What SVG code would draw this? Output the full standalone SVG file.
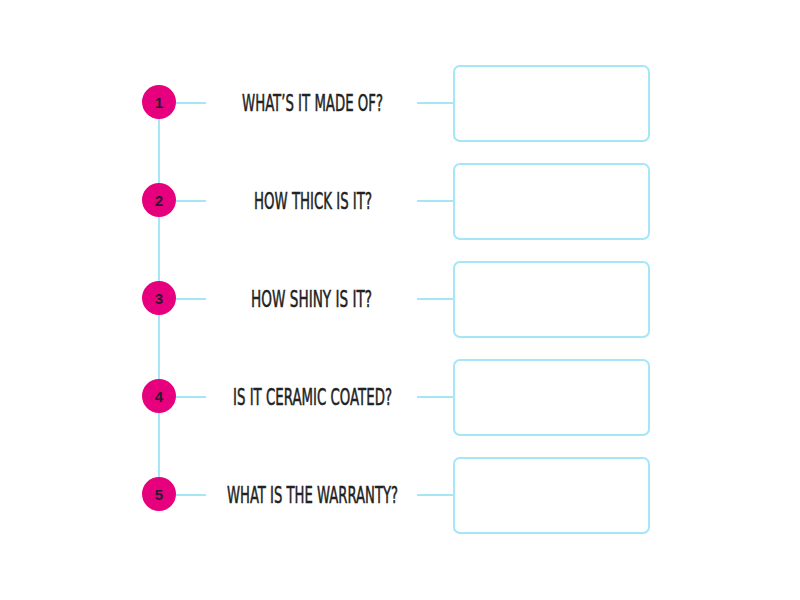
<svg xmlns="http://www.w3.org/2000/svg" width="800" height="600" viewBox="0 0 800 600">
<style>
.ln{stroke:#a6e6f7;stroke-width:2;fill:none}
.box{fill:#fff;stroke:#a6e6f7;stroke-width:2}
.dot{fill:#e6007e}
.num{font-family:"Liberation Sans",Arial,sans-serif;font-weight:bold;font-size:15px;fill:#2b1b2b;text-anchor:middle}
.q{font-family:"Liberation Sans Narrow","DejaVu Sans Condensed","Liberation Sans",sans-serif;font-stretch:condensed;font-size:23px;fill:#222;stroke:#222;stroke-width:0.5;text-anchor:middle}
</style>
<rect width="800" height="600" fill="#fff"/>
<g id="connectors">
<line class="ln" x1="159" y1="102" x2="159" y2="494"/>
<line class="ln" x1="176" y1="103" x2="206" y2="103"/>
<line class="ln" x1="417" y1="103" x2="453" y2="103"/>
<line class="ln" x1="176" y1="201" x2="206" y2="201"/>
<line class="ln" x1="417" y1="201" x2="453" y2="201"/>
<line class="ln" x1="176" y1="299" x2="206" y2="299"/>
<line class="ln" x1="417" y1="299" x2="453" y2="299"/>
<line class="ln" x1="176" y1="397" x2="206" y2="397"/>
<line class="ln" x1="417" y1="397" x2="453" y2="397"/>
<line class="ln" x1="176" y1="495" x2="206" y2="495"/>
<line class="ln" x1="417" y1="495" x2="453" y2="495"/>
</g>
<g id="node1">
<circle class="dot" cx="159" cy="102" r="17"/><text class="num" x="159" y="107.5">1</text>
<text class="q" x="312.5" y="111" textLength="141" lengthAdjust="spacingAndGlyphs">WHAT’S IT MADE OF?</text>
<rect class="box" x="454" y="66" width="195" height="75" rx="6"/>
</g>
<g id="node2">
<circle class="dot" cx="159" cy="200" r="17"/><text class="num" x="159" y="205.5">2</text>
<text class="q" x="313" y="209" textLength="118" lengthAdjust="spacingAndGlyphs">HOW THICK IS IT?</text>
<rect class="box" x="454" y="164" width="195" height="75" rx="6"/>
</g>
<g id="node3">
<circle class="dot" cx="159" cy="298" r="17"/><text class="num" x="159" y="303.5">3</text>
<text class="q" x="311.5" y="307" textLength="121" lengthAdjust="spacingAndGlyphs">HOW SHINY IS IT?</text>
<rect class="box" x="454" y="262" width="195" height="75" rx="6"/>
</g>
<g id="node4">
<circle class="dot" cx="159" cy="396" r="17"/><text class="num" x="159" y="401.5">4</text>
<text class="q" x="312.5" y="405" textLength="159" lengthAdjust="spacingAndGlyphs">IS IT CERAMIC COATED?</text>
<rect class="box" x="454" y="360" width="195" height="75" rx="6"/>
</g>
<g id="node5">
<circle class="dot" cx="159" cy="494" r="17"/><text class="num" x="159" y="499.5">5</text>
<text class="q" x="312.5" y="503" textLength="171" lengthAdjust="spacingAndGlyphs">WHAT IS THE WARRANTY?</text>
<rect class="box" x="454" y="458" width="195" height="75" rx="6"/>
</g>
</svg>
